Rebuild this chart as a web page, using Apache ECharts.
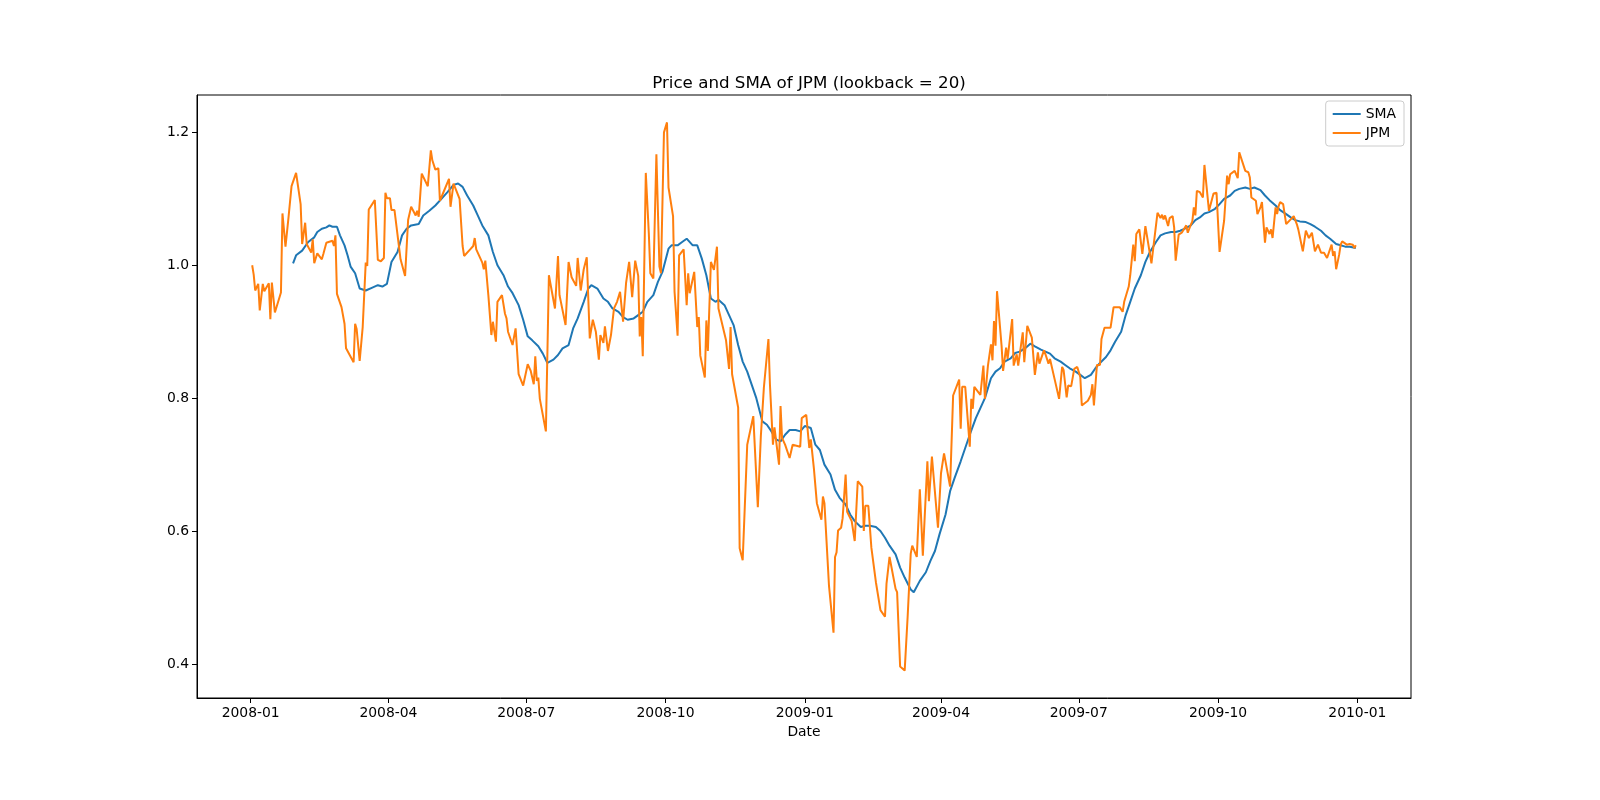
<!DOCTYPE html>
<html><head><meta charset="utf-8">
<script src="https://cdn.jsdelivr.net/npm/echarts@6/dist/echarts.min.js"></script>
<style>html,body{margin:0;padding:0;background:#fff}#chart{width:1600px;height:800px}</style>
</head><body><div id="chart"></div>
<script>
const titleText = 'Price and SMA of JPM (lookback = 20)';
const xAxisName = 'Date';
const seriesNames = ['SMA', 'JPM'];
const xTickLabels = ['2008-01','2008-04','2008-07','2008-10','2009-01','2009-04','2009-07','2009-10','2010-01'];
const yTicks = [0.4, 0.6, 0.8, 1.0, 1.2];

const priceDates = [
'2008-01-02','2008-01-03','2008-01-04','2008-01-06','2008-01-07','2008-01-09','2008-01-10','2008-01-13','2008-01-14','2008-01-15',
'2008-01-17','2008-01-21','2008-01-22','2008-01-24','2008-01-26','2008-01-28','2008-01-29','2008-01-31','2008-02-03','2008-02-04',
'2008-02-05','2008-02-06','2008-02-07','2008-02-10','2008-02-11','2008-02-12','2008-02-14','2008-02-17','2008-02-18','2008-02-20',
'2008-02-24','2008-02-25','2008-02-26','2008-02-27','2008-03-01','2008-03-03','2008-03-04','2008-03-05','2008-03-09','2008-03-10',
'2008-03-11','2008-03-13','2008-03-15','2008-03-17','2008-03-18','2008-03-19','2008-03-23','2008-03-25','2008-03-27','2008-03-29',
'2008-03-30','2008-03-31','2008-04-02','2008-04-03','2008-04-05','2008-04-09','2008-04-12','2008-04-14','2008-04-16','2008-04-19',
'2008-04-20','2008-04-21','2008-04-23','2008-04-27','2008-04-29','2008-04-30','2008-05-02','2008-05-04','2008-05-05','2008-05-07',
'2008-05-11','2008-05-12','2008-05-14','2008-05-18','2008-05-20','2008-05-21','2008-05-22','2008-05-25','2008-05-27','2008-05-28',
'2008-05-29','2008-06-02','2008-06-03','2008-06-04','2008-06-06','2008-06-08','2008-06-09','2008-06-11','2008-06-12','2008-06-15',
'2008-06-17','2008-06-18','2008-06-19','2008-06-22','2008-06-24','2008-06-26','2008-06-29','2008-06-30','2008-07-02','2008-07-04',
'2008-07-06','2008-07-07','2008-07-08','2008-07-09','2008-07-10','2008-07-14','2008-07-16','2008-07-20','2008-07-22','2008-07-23',
'2008-07-24','2008-07-27','2008-07-29','2008-07-31','2008-08-01','2008-08-03','2008-08-04','2008-08-06','2008-08-08','2008-08-10',
'2008-08-12','2008-08-14','2008-08-16','2008-08-18','2008-08-19','2008-08-21','2008-08-22','2008-08-24','2008-08-26','2008-08-28',
'2008-08-30','2008-09-01','2008-09-03','2008-09-05','2008-09-07','2008-09-09','2008-09-11','2008-09-13','2008-09-14','2008-09-15',
'2008-09-16','2008-09-18','2008-09-20','2008-09-21','2008-09-23','2008-09-25','2008-09-27','2008-09-28','2008-09-30','2008-10-02',
'2008-10-03','2008-10-06','2008-10-07','2008-10-08','2008-10-09','2008-10-10','2008-10-13','2008-10-15','2008-10-16','2008-10-17',
'2008-10-20','2008-10-22','2008-10-23','2008-10-24','2008-10-27','2008-10-28','2008-10-29','2008-10-31','2008-11-02','2008-11-04',
'2008-11-05','2008-11-10','2008-11-12','2008-11-13','2008-11-14','2008-11-18','2008-11-19','2008-11-21','2008-11-24','2008-11-28',
'2008-12-01','2008-12-03','2008-12-05','2008-12-08','2008-12-09','2008-12-11','2008-12-12','2008-12-15','2008-12-16','2008-12-17',
'2008-12-19','2008-12-22','2008-12-24','2008-12-29','2008-12-30','2009-01-02','2009-01-04','2009-01-05','2009-01-07','2009-01-09',
'2009-01-12','2009-01-13','2009-01-14','2009-01-17','2009-01-20','2009-01-21','2009-01-22','2009-01-23','2009-01-25','2009-01-26',
'2009-01-28','2009-01-29','2009-02-01','2009-02-03','2009-02-04','2009-02-05','2009-02-08','2009-02-09','2009-02-10','2009-02-12',
'2009-02-14','2009-02-17','2009-02-18','2009-02-20','2009-02-23','2009-02-24','2009-02-26','2009-02-27','2009-03-02','2009-03-03',
'2009-03-05','2009-03-08','2009-03-09','2009-03-10','2009-03-12','2009-03-13','2009-03-16','2009-03-18','2009-03-20','2009-03-23',
'2009-03-24','2009-03-26','2009-03-30','2009-04-01','2009-04-03','2009-04-05','2009-04-07','2009-04-08','2009-04-09','2009-04-13',
'2009-04-14','2009-04-15','2009-04-17','2009-04-20','2009-04-21','2009-04-22','2009-04-23','2009-04-27','2009-04-28','2009-04-29',
'2009-04-30','2009-05-02','2009-05-04','2009-05-05','2009-05-06','2009-05-07','2009-05-08','2009-05-11','2009-05-12','2009-05-14',
'2009-05-15','2009-05-18','2009-05-19','2009-05-21','2009-05-22','2009-05-25','2009-05-26','2009-05-28','2009-05-31','2009-06-02',
'2009-06-04','2009-06-05','2009-06-08','2009-06-09','2009-06-11','2009-06-12','2009-06-15','2009-06-18','2009-06-20','2009-06-21',
'2009-06-23','2009-06-24','2009-06-26','2009-06-28','2009-06-30','2009-07-02','2009-07-03','2009-07-07','2009-07-09','2009-07-10',
'2009-07-11','2009-07-13','2009-07-15','2009-07-16','2009-07-17','2009-07-18','2009-07-22','2009-07-24','2009-07-25','2009-07-28',
'2009-07-30','2009-07-31','2009-08-03','2009-08-04','2009-08-06','2009-08-07','2009-08-08','2009-08-10','2009-08-12','2009-08-14',
'2009-08-18','2009-08-22','2009-08-24','2009-08-25','2009-08-26','2009-08-27','2009-08-29','2009-08-30','2009-09-01','2009-09-02',
'2009-09-03','2009-09-05','2009-09-07','2009-09-10','2009-09-11','2009-09-13','2009-09-14','2009-09-15','2009-09-16','2009-09-17',
'2009-09-19','2009-09-21','2009-09-22','2009-09-25','2009-09-28','2009-09-30','2009-10-02','2009-10-05','2009-10-07','2009-10-08',
'2009-10-09','2009-10-12','2009-10-14','2009-10-15','2009-10-16','2009-10-19','2009-10-21','2009-10-22','2009-10-23','2009-10-26',
'2009-10-27','2009-10-29','2009-10-30','2009-11-01','2009-11-02','2009-11-04','2009-11-05','2009-11-06','2009-11-08','2009-11-09',
'2009-11-10','2009-11-11','2009-11-13','2009-11-15','2009-11-18','2009-11-20','2009-11-22','2009-11-23','2009-11-24','2009-11-26',
'2009-11-28','2009-11-30','2009-12-02','2009-12-04','2009-12-06','2009-12-08','2009-12-10','2009-12-12','2009-12-15','2009-12-16',
'2009-12-17','2009-12-18','2009-12-20','2009-12-21','2009-12-22','2009-12-23','2009-12-25','2009-12-27','2009-12-29','2009-12-30',
'2009-12-31'
];
const priceValues = [
1.000,0.986,0.962,0.972,0.932,0.972,0.961,0.973,0.919,0.974,
0.929,0.959,1.078,1.028,1.072,1.119,1.119,1.139,1.092,1.032,
1.029,1.064,1.032,1.019,1.039,1.003,1.018,1.009,1.017,1.034,
1.037,1.029,1.045,0.957,0.937,0.912,0.875,0.874,0.854,0.912,
0.904,0.856,0.907,1.004,0.999,1.084,1.098,1.008,1.006,1.011,
1.109,1.101,1.101,1.083,1.083,1.009,0.984,1.068,1.088,1.075,
1.082,1.073,1.138,1.119,1.173,1.158,1.144,1.146,1.097,1.108,
1.130,1.088,1.123,1.100,1.029,1.014,1.011,1.024,1.029,1.041,
1.024,1.004,0.994,1.007,0.955,0.895,0.915,0.885,0.945,0.955,
0.927,0.920,0.900,0.880,0.905,0.836,0.819,0.822,0.851,0.841,
0.821,0.863,0.826,0.831,0.799,0.750,0.985,0.935,1.014,0.955,
0.952,0.910,1.005,0.982,0.984,0.969,1.011,0.962,0.994,1.012,
0.890,0.918,0.900,0.858,0.895,0.883,0.908,0.871,0.895,0.935,
0.945,0.960,0.915,0.974,1.005,0.952,1.007,0.984,0.893,0.922,
0.863,1.139,1.048,0.988,0.980,1.167,0.998,0.988,1.200,1.215,
1.117,1.074,0.960,0.958,0.894,1.015,1.024,0.940,0.988,0.958,
0.990,0.907,0.922,0.864,0.831,0.917,0.871,1.005,0.993,1.028,
0.935,0.887,0.844,0.907,0.836,0.786,0.574,0.556,0.730,0.773,
0.636,0.743,0.816,0.889,0.821,0.730,0.756,0.700,0.788,0.740,
0.730,0.710,0.730,0.727,0.770,0.775,0.725,0.738,0.695,0.642,
0.617,0.652,0.642,0.518,0.447,0.561,0.568,0.601,0.605,0.619,
0.685,0.629,0.615,0.585,0.585,0.675,0.667,0.600,0.638,0.638,
0.575,0.523,0.521,0.481,0.471,0.521,0.561,0.558,0.513,0.508,
0.396,0.390,0.390,0.473,0.566,0.578,0.561,0.663,0.563,0.705,
0.645,0.712,0.605,0.687,0.717,0.692,0.667,0.665,0.804,0.828,
0.754,0.817,0.817,0.727,0.799,0.784,0.817,0.805,0.805,0.849,
0.799,0.849,0.881,0.857,0.916,0.879,0.961,0.879,0.841,0.876,
0.859,0.919,0.849,0.866,0.849,0.899,0.854,0.909,0.891,0.835,
0.869,0.852,0.872,0.866,0.852,0.859,0.829,0.799,0.847,0.842,
0.801,0.819,0.818,0.844,0.847,0.832,0.789,0.796,0.805,0.821,
0.789,0.850,0.850,0.889,0.888,0.906,0.906,0.937,0.935,0.937,
0.930,0.945,0.968,0.985,1.031,1.006,1.047,1.054,1.017,1.059,
1.003,1.079,1.071,1.076,1.069,1.075,1.059,1.071,1.074,1.057,
1.007,1.046,1.049,1.060,1.049,1.061,1.066,1.087,1.075,1.112,
1.110,1.102,1.151,1.082,1.108,1.109,1.020,1.067,1.135,1.122,
1.137,1.142,1.131,1.170,1.168,1.142,1.140,1.132,1.102,1.097,
1.077,1.087,1.095,1.034,1.057,1.047,1.054,1.041,1.087,1.077,
1.089,1.095,1.092,1.062,1.069,1.074,1.062,1.054,1.052,1.021,
1.052,1.041,1.049,1.021,1.031,1.019,1.019,1.011,1.031,1.014,
1.021,0.994,1.016,1.031,1.036,1.034,1.031,1.032,1.031,1.026,
1.030
];

const smaDates = [
'2008-01-29','2008-01-31','2008-02-04','2008-02-08','2008-02-12','2008-02-14','2008-02-17','2008-02-20','2008-02-22','2008-02-24',
'2008-02-27','2008-02-29','2008-03-03','2008-03-05','2008-03-07','2008-03-10','2008-03-13','2008-03-17','2008-03-21','2008-03-25',
'2008-03-28','2008-03-31','2008-04-03','2008-04-07','2008-04-10','2008-04-13','2008-04-16','2008-04-21','2008-04-24','2008-04-28',
'2008-05-02','2008-05-06','2008-05-10','2008-05-14','2008-05-17','2008-05-20','2008-05-23','2008-05-27','2008-05-30','2008-06-02',
'2008-06-06','2008-06-09','2008-06-12','2008-06-16','2008-06-19','2008-06-22','2008-06-26','2008-06-29','2008-07-02','2008-07-05',
'2008-07-09','2008-07-12','2008-07-15','2008-07-19','2008-07-22','2008-07-25','2008-07-29','2008-08-01','2008-08-04','2008-08-08',
'2008-08-11','2008-08-13','2008-08-17','2008-08-21','2008-08-24','2008-08-27','2008-08-31','2008-09-03','2008-09-06','2008-09-10',
'2008-09-13','2008-09-16','2008-09-19','2008-09-23','2008-09-26','2008-09-29','2008-10-03','2008-10-05','2008-10-09','2008-10-12',
'2008-10-15','2008-10-19','2008-10-22','2008-10-25','2008-10-28','2008-10-31','2008-11-03','2008-11-05','2008-11-09','2008-11-12',
'2008-11-15','2008-11-18','2008-11-21','2008-11-24','2008-11-27','2008-11-30','2008-12-04','2008-12-07','2008-12-10','2008-12-13',
'2008-12-16','2008-12-19','2008-12-22','2008-12-26','2008-12-29','2009-01-01','2009-01-05','2009-01-08','2009-01-11','2009-01-14',
'2009-01-18','2009-01-21','2009-01-24','2009-01-28','2009-01-31','2009-02-03','2009-02-07','2009-02-10','2009-02-13','2009-02-17',
'2009-02-20','2009-02-23','2009-02-26','2009-03-02','2009-03-05','2009-03-08','2009-03-12','2009-03-14','2009-03-18','2009-03-22',
'2009-03-25','2009-03-28','2009-03-31','2009-04-04','2009-04-07','2009-04-10','2009-04-14','2009-04-17','2009-04-20','2009-04-24',
'2009-04-27','2009-04-30','2009-05-04','2009-05-07','2009-05-10','2009-05-13','2009-05-17','2009-05-20','2009-05-23','2009-05-27',
'2009-05-30','2009-06-02','2009-06-06','2009-06-09','2009-06-12','2009-06-15','2009-06-19','2009-06-22','2009-06-25','2009-06-29',
'2009-07-02','2009-07-05','2009-07-09','2009-07-12','2009-07-15','2009-07-19','2009-07-22','2009-07-25','2009-07-29','2009-08-01',
'2009-08-04','2009-08-07','2009-08-11','2009-08-14','2009-08-17','2009-08-21','2009-08-24','2009-08-27','2009-08-31','2009-09-03',
'2009-09-06','2009-09-09','2009-09-13','2009-09-16','2009-09-19','2009-09-22','2009-09-25','2009-09-29','2009-10-02','2009-10-05',
'2009-10-09','2009-10-12','2009-10-15','2009-10-19','2009-10-22','2009-10-25','2009-10-29','2009-11-01','2009-11-04','2009-11-08',
'2009-11-11','2009-11-15','2009-11-18','2009-11-21','2009-11-24','2009-11-28','2009-12-01','2009-12-04','2009-12-08','2009-12-11',
'2009-12-14','2009-12-18','2009-12-21','2009-12-24','2009-12-27','2009-12-31'
];
const smaValues = [
1.003,1.015,1.022,1.035,1.042,1.050,1.055,1.057,1.060,1.058,
1.058,1.045,1.030,1.015,0.998,0.988,0.965,0.962,0.966,0.970,
0.968,0.972,1.005,1.020,1.045,1.055,1.060,1.062,1.075,1.082,
1.090,1.100,1.110,1.121,1.123,1.118,1.105,1.090,1.075,1.060,
1.045,1.020,1.000,0.985,0.968,0.958,0.940,0.918,0.893,0.887,
0.878,0.867,0.853,0.858,0.865,0.875,0.880,0.905,0.920,0.945,
0.965,0.970,0.965,0.950,0.945,0.935,0.930,0.922,0.918,0.920,
0.925,0.930,0.945,0.955,0.975,0.990,1.025,1.030,1.030,1.035,
1.040,1.030,1.030,1.010,0.985,0.950,0.945,0.948,0.940,0.925,
0.910,0.880,0.855,0.840,0.820,0.800,0.765,0.760,0.750,0.738,
0.735,0.745,0.752,0.752,0.750,0.758,0.755,0.730,0.722,0.700,
0.685,0.662,0.650,0.640,0.625,0.615,0.606,0.608,0.608,0.606,
0.600,0.590,0.578,0.565,0.545,0.530,0.512,0.508,0.525,0.538,
0.555,0.570,0.595,0.625,0.660,0.680,0.705,0.725,0.745,0.770,
0.785,0.800,0.830,0.840,0.845,0.855,0.860,0.868,0.870,0.876,
0.882,0.878,0.873,0.870,0.867,0.860,0.855,0.850,0.845,0.840,
0.835,0.830,0.835,0.845,0.853,0.862,0.872,0.885,0.900,0.925,
0.945,0.965,0.985,1.005,1.020,1.035,1.045,1.048,1.050,1.050,
1.052,1.055,1.060,1.068,1.072,1.078,1.080,1.085,1.092,1.100,
1.105,1.112,1.115,1.117,1.115,1.117,1.113,1.105,1.098,1.090,
1.083,1.077,1.072,1.068,1.066,1.065,1.062,1.058,1.052,1.045,
1.040,1.032,1.030,1.028,1.028,1.026
];

function ts(s) {
  const p = s.split('-').map(Number);
  return Date.UTC(p[0], p[1] - 1, p[2] || 1);
}
const xTickValues = xTickLabels.map(ts);
const t0 = ts(priceDates[0]), t1 = ts(priceDates[priceDates.length - 1]);
const xPad = (t1 - t0) * 0.05;
const allVals = priceValues.concat(smaValues);
const vMin = Math.min.apply(null, allVals), vMax = Math.max.apply(null, allVals);
const yPad = (vMax - vMin) * 0.05;

const chart = echarts.init(document.getElementById('chart'));
chart.setOption({
  animation: false,
  backgroundColor: '#ffffff',
  textStyle: { fontFamily: 'DejaVu Sans' },
  title: {
    text: titleText, left: 804, top: 70, textAlign: 'center',
    textStyle: { fontSize: 16.7, fontWeight: 'normal', color: '#000', fontFamily: 'DejaVu Sans' }
  },
  legend: {
    data: seriesNames, orient: 'vertical', right: 196, top: 101,
    icon: 'rect', itemWidth: 28, itemHeight: 2, itemGap: 5,
    padding: [6, 8, 6, 7], borderColor: '#cccccc', borderWidth: 1, borderRadius: 3,
    backgroundColor: 'rgba(255,255,255,0.8)',
    textStyle: { fontSize: 13.9, color: '#000', fontFamily: 'DejaVu Sans' }
  },
  grid: { left: 197, right: 189, top: 95, bottom: 102, show: true, borderColor: '#000', borderWidth: 1 },
  xAxis: {
    type: 'value', min: t0 - xPad, max: t1 + xPad, scale: true,
    name: xAxisName, nameLocation: 'middle', nameGap: 26,
    nameTextStyle: { fontSize: 13.9, color: '#000', fontFamily: 'DejaVu Sans' },
    axisLine: { show: true, lineStyle: { color: '#000', width: 1 } },
    axisTick: { show: true, customValues: xTickValues, length: 5, lineStyle: { color: '#000', width: 1 } },
    axisLabel: {
      customValues: xTickValues, fontSize: 13.9, color: '#000', margin: 8, fontFamily: 'DejaVu Sans',
      formatter: function (v) { const i = xTickValues.indexOf(v); return i >= 0 ? xTickLabels[i] : ''; }
    },
    splitLine: { show: false }
  },
  yAxis: {
    type: 'value', min: vMin - yPad, max: vMax + yPad, scale: true,
    axisLine: { show: true, lineStyle: { color: '#000', width: 1 } },
    axisTick: { show: true, customValues: yTicks, length: 5, lineStyle: { color: '#000', width: 1 } },
    axisLabel: {
      customValues: yTicks, fontSize: 13.9, color: '#000', margin: 8, fontFamily: 'DejaVu Sans',
      formatter: function (v) { return Number(v).toFixed(1); }
    },
    splitLine: { show: false }
  },
  series: [
    {
      name: seriesNames[0], type: 'line', showSymbol: false, symbol: 'none',
      data: smaDates.map(function (d, i) { return [ts(d), smaValues[i]]; }),
      lineStyle: { color: '#1f77b4', width: 2 }, itemStyle: { color: '#1f77b4' }, z: 2
    },
    {
      name: seriesNames[1], type: 'line', showSymbol: false, symbol: 'none',
      data: priceDates.map(function (d, i) { return [ts(d), priceValues[i]]; }),
      lineStyle: { color: '#ff7f0e', width: 2 }, itemStyle: { color: '#ff7f0e' }, z: 3
    }
  ]
});
</script>
</body></html>
